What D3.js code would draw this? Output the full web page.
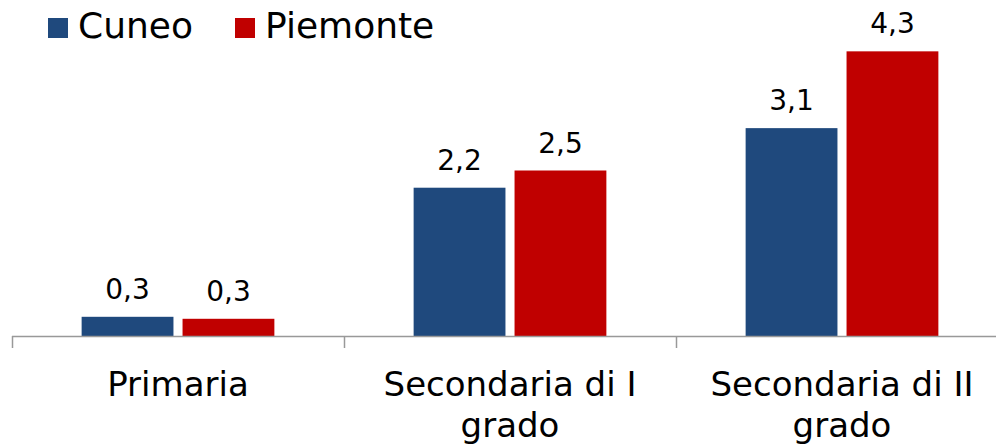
<!DOCTYPE html>
<html>
<head>
<meta charset="utf-8">
<script src="https://cdn.jsdelivr.net/npm/d3@7"></script>
<style>
  body { margin: 0; background: #fff; }
  text { font-family: "DejaVu Sans", sans-serif; fill: #000; }
</style>
</head>
<body>
<div id="chart"></div>
<script>
// data
const categories = [["Primaria"], ["Secondaria di I", "grado"], ["Secondaria di II", "grado"]];
const series = ["Cuneo", "Piemonte"];
const cuneo = [0.29, 2.24, 3.14];
const piemonte = [0.26, 2.5, 4.3];
const colors = ["#1F497D", "#C00000"];

const width = 996, height = 448;
const baseline = 336;

const rows = categories.map((c, i) => ({ key: i, label: c, values: [cuneo[i], piemonte[i]] }));

const svg = d3.select("#chart")
    .append("svg")
    .attr("width", width)
    .attr("height", height);

const x0 = d3.scaleBand()
    .domain(rows.map(d => d.key))
    .range([12, 1008])
    .padding(0);

const x1 = d3.scaleBand()
    .domain(d3.range(series.length))
    .range([0, x0.bandwidth()])
    .paddingInner(0.09)
    .paddingOuter(0.69);

const y = d3.scaleLinear()
    .domain([0, 5])
    .range([baseline, 5]);

const fmt = d3.formatLocale({ decimal: ",", thousands: ".", grouping: [3], currency: ["", "€"] }).format(".1f");

// bars
const groups = svg.selectAll("g.cat")
    .data(rows)
    .enter()
    .append("g")
    .attr("class", "cat")
    .attr("transform", d => `translate(${x0(d.key)},0)`);

groups.selectAll("rect")
    .data(d => d.values)
    .enter()
    .append("rect")
    .attr("x", (v, i) => x1(i))
    .attr("y", v => y(v))
    .attr("width", x1.bandwidth())
    .attr("height", v => baseline - y(v))
    .attr("fill", (v, i) => colors[i]);

groups.selectAll("text.val")
    .data(d => d.values)
    .enter()
    .append("text")
    .attr("class", "val")
    .attr("x", (v, i) => x1(i) + x1.bandwidth() / 2)
    .attr("y", v => y(v) - 18)
    .attr("text-anchor", "middle")
    .style("font-size", "28px")
    .text(v => fmt(v));

// x axis: line with ticks at band boundaries
const axis = svg.append("g");
axis.append("line")
    .attr("x1", x0.range()[0]).attr("x2", x0.range()[1])
    .attr("y1", baseline + 0.5).attr("y2", baseline + 0.5)
    .attr("stroke", "#999").attr("stroke-width", 1.5);

const bounds = rows.map(d => x0(d.key)).concat([x0.range()[1]]);
axis.selectAll("line.tick")
    .data(bounds)
    .enter()
    .append("line")
    .attr("class", "tick")
    .attr("x1", d => d + 0.5).attr("x2", d => d + 0.5)
    .attr("y1", baseline).attr("y2", baseline + 12)
    .attr("stroke", "#999").attr("stroke-width", 1.5);

axis.selectAll("text.cat")
    .data(rows)
    .enter()
    .append("text")
    .attr("class", "cat")
    .attr("text-anchor", "middle")
    .style("font-size", "34px")
    .each(function (d) {
      const t = d3.select(this);
      d.label.forEach((line, i) => {
        t.append("tspan")
          .attr("x", x0(d.key) + x0.bandwidth() / 2)
          .attr("y", 396 + i * 41)
          .text(line);
      });
    });

// legend
const legendX = [48, 235];
const legend = svg.selectAll("g.legend")
    .data(series)
    .enter()
    .append("g")
    .attr("class", "legend")
    .attr("transform", (d, i) => `translate(${legendX[i]},0)`);

legend.append("rect")
    .attr("x", 0).attr("y", 18)
    .attr("width", 20).attr("height", 20)
    .attr("fill", (d, i) => colors[i]);

legend.append("text")
    .attr("x", 30).attr("y", 38)
    .style("font-size", "36px")
    .text(d => d);
</script>
</body>
</html>
